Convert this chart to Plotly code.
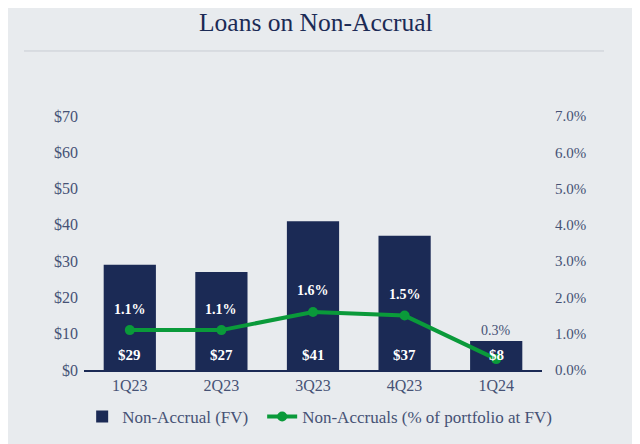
import plotly.graph_objects as go

quarters = ["1Q23", "2Q23", "3Q23", "4Q23", "1Q24"]
non_accrual_fv = [29, 27, 41, 37, 8]
non_accrual_pct = [1.1, 1.1, 1.6, 1.5, 0.3]
left_ticks = [0, 10, 20, 30, 40, 50, 60, 70]
right_ticks = [0, 1, 2, 3, 4, 5, 6, 7]

NAVY = "#1b2a55"
GREEN = "#0a9a3a"
TICK = "#465275"
BG = "#e8ebee"
FONT = "Liberation Serif"

fig = go.Figure()
fig.add_trace(go.Bar(
    x=quarters, y=non_accrual_fv, name="Non-Accrual (FV)",
    marker=dict(color=NAVY, line=dict(width=0)), width=0.57, legend="legend",
))
fig.add_trace(go.Scatter(
    x=quarters, y=non_accrual_pct, name="Non-Accruals (% of portfolio at FV)",
    yaxis="y2", mode="lines+markers", legend="legend2",
    line=dict(color=GREEN, width=4), marker=dict(color=GREEN, size=10),
))

for q, v in zip(quarters, non_accrual_fv):
    fig.add_annotation(x=q, y=0, yref="y", yshift=15, text=f"<b>${v}</b>",
                       showarrow=False, font=dict(color="white", size=15, family=FONT))

for i, (q, p) in enumerate(zip(quarters, non_accrual_pct)):
    last = i == len(quarters) - 1
    fig.add_annotation(x=q, y=p, yref="y2", yshift=29 if last else 21,
                       text=(f"{p:.1f}%" if last else f"<b>{p:.1f}%</b>"),
                       showarrow=False,
                       font=dict(color=TICK if last else "white", size=14, family=FONT))

fig.add_shape(type="line", xref="paper", yref="paper",
              x0=(24 - 84) / 458, x1=(604 - 84) / 458, y0=1.256, y1=1.256,
              line=dict(color="#c8cdd3", width=1))

legend_common = dict(orientation="h", xanchor="left", y=-0.185, yanchor="middle",
                     font=dict(size=17, color=TICK), bgcolor="rgba(0,0,0,0)")

fig.update_layout(
    width=640, height=444,
    paper_bgcolor=BG, plot_bgcolor=BG,
    margin=dict(l=76, r=106, t=108, b=82),
    font=dict(family=FONT, color=TICK, size=16),
    title=dict(text="Loans on Non-Accrual", x=0.481, xanchor="center",
               y=1 - 14 / 444, yanchor="middle",
               font=dict(size=25.5, color=NAVY, family=FONT)),
    xaxis=dict(showgrid=False, showline=True, linecolor=NAVY, linewidth=2,
               tickfont=dict(size=16, color=TICK), ticks=""),
    yaxis=dict(range=[0, 70], tickvals=left_ticks,
               ticktext=[f"${t}" for t in left_ticks],
               showgrid=False, zeroline=False, tickfont=dict(size=16, color=TICK),
               ticklabelstandoff=5),
    yaxis2=dict(range=[0, 7], tickvals=right_ticks,
                ticktext=[f"{t:.1f}%" for t in right_ticks],
                overlaying="y", side="right", showgrid=False, zeroline=False,
                tickfont=dict(size=15, color=TICK), ticklabelstandoff=12),
    legend=dict(x=-0.004, **legend_common),
    legend2=dict(x=0.389, **legend_common),
    showlegend=True,
)

fig.write_html("out.html")
